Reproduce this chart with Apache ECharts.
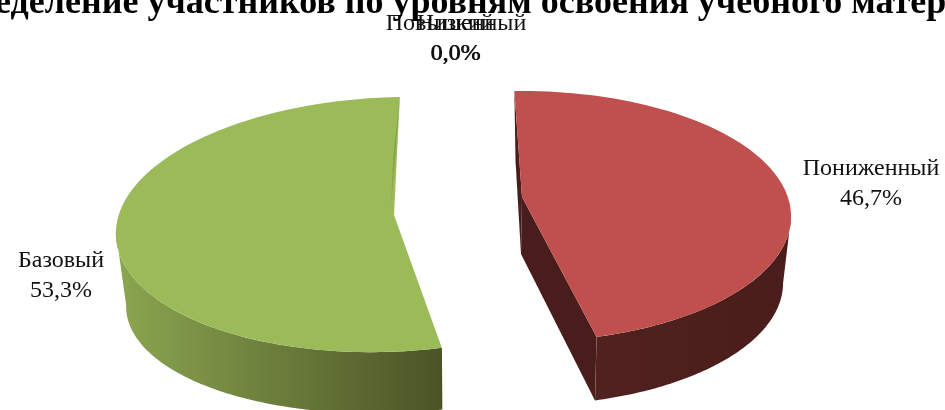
<!DOCTYPE html>
<html>
<head>
<meta charset="utf-8">
<style>html,body{margin:0;padding:0;background:#fff;}</style>
</head>
<body>
<div id="chart" style="width:945px;height:410px;"></div>
<script src="https://cdn.jsdelivr.net/npm/echarts@6/dist/echarts.min.js"></script>
<script type="text/javascript">
    var titleText = 'Распределение участников по уровням освоения учебного материала';
    var categories = ['Низкий', 'Пониженный', 'Базовый', 'Повышенный'];
    var shares = [0.0, 46.7, 53.3, 0.0];

    var startAngle = -1.9;
    var serif = '"Liberation Serif", "Times New Roman", serif';

    // the picture has a perspective tilt, so each exploded slice gets its own projection
    var sliceGeo = {
        'Пониженный': {
            center: [522, 197], tip: [522, 197], tipDrop: [-1, 57], rx: 265.8, ry: 122.4, c: 0.155, skew: 0,
            drop: [0.9, 67], lowerScale: [0.967, 0.975], wallFrom: 99, wallTo: 166.2,
            top: '#c0504d', wall: ['#50211f', '#491d1b'], cutWalls: true
        },
        'Базовый': {
            center: [391, 214], tip: [394, 215], tipDrop: [0, 57], rx: 272, ry: 126.7, c: 0.083, skew: -0.147,
            drop: [2, 75], lowerScale: [0.97, 0.9], wallFrom: 166.2, wallTo: 262,
            top: '#9bbb59', wall: ['#8ba650', '#4b5326'], cutWalls: false, sliver: '#82a04a'
        }
    };
    var labelPos = {
        'Низкий': [455.2, 9],
        'Пониженный': [871, 154],
        'Базовый': [61, 246],
        'Повышенный': [456, 9]
    };

    function project(geo, deg, lower) {
        var t = deg * Math.PI / 180;
        var u = Math.sin(t), v = -Math.cos(t);
        var d = 1 - geo.c * v;
        var y = geo.ry * v / d;
        var x = geo.rx * u / d + geo.skew * y;
        if (lower) {
            return [geo.center[0] + geo.drop[0] + x * geo.lowerScale[0],
                    geo.center[1] + geo.drop[1] + y * geo.lowerScale[1]];
        }
        return [geo.center[0] + x, geo.center[1] + y];
    }

    function arc(geo, a0, a1, lower) {
        var pts = [];
        for (var i = 0; i <= 80; i++) {
            pts.push(project(geo, a0 + (a1 - a0) * i / 80, lower));
        }
        return pts;
    }

    function poly(points, fill) {
        return { type: 'polygon', shape: { points: points }, style: { fill: fill } };
    }

    function renderSlice(params, api) {
        var name = categories[params.dataIndex];
        var share = api.value(0);
        var before = 0;
        for (var i = 0; i < params.dataIndex; i++) before += shares[i];
        var a0 = startAngle + before * 3.6;
        var a1 = a0 + share * 3.6;

        var children = [];
        var geo = sliceGeo[name];
        if (geo) {
            var upper = arc(geo, a0, a1, false);
            var tipLow = [geo.tip[0] + geo.tipDrop[0], geo.tip[1] + geo.tipDrop[1]];
            if (geo.cutWalls) {
                var lowerAll = arc(geo, a0, a1, true);
                children.push(poly([geo.tip, upper[0], lowerAll[0], tipLow], geo.wall[1]));
                children.push(poly([geo.tip, upper[80], lowerAll[80], tipLow], geo.wall[1]));
            }
            // only the visible run of the outer wall, from silhouette to the cut
            var wallUp = arc(geo, geo.wallFrom, geo.wallTo, false);
            var wallLow = arc(geo, geo.wallFrom, geo.wallTo, true);
            children.push(poly(wallUp.concat(wallLow.reverse()), new echarts.graphic.LinearGradient(
                0, 0, 1, 0,
                [{ offset: 0, color: geo.wall[0] }, { offset: 1, color: geo.wall[1] }]
            )));
            children.push(poly([geo.tip].concat(upper), geo.top));
            if (geo.sliver) {
                var e = upper[80];
                children.push(poly([e, [geo.tip[0] - 3, geo.tip[1] - 10],
                    [(e[0] + geo.tip[0]) / 2 - 3.5, (e[1] + geo.tip[1]) / 2]], geo.sliver));
            }
        }
        children.push({
            type: 'text',
            style: {
                x: labelPos[name][0],
                y: labelPos[name][1],
                text: name + '\n' + share.toFixed(1).replace('.', ',') + '%',
                font: '24px ' + serif,
                lineHeight: 30,
                fill: '#111',
                align: 'center',
                verticalAlign: 'top'
            }
        });
        return { type: 'group', children: children };
    }

    var chart1 = echarts.init(document.getElementById('chart'));
    var option = {
        animation: false,
        backgroundColor: '#fff',
        title: {
            text: titleText,
            left: 456,
            textAlign: 'center',
            top: -19,
            textStyle: { color: '#000', fontFamily: serif, fontSize: 36, fontWeight: 'bold' }
        },
        series: [{
            type: 'custom',
            coordinateSystem: 'none',
            renderItem: renderSlice,
            data: shares.map(function (v) { return [v]; })
        }]
    };
    chart1.setOption(option);
</script>
</body>
</html>
